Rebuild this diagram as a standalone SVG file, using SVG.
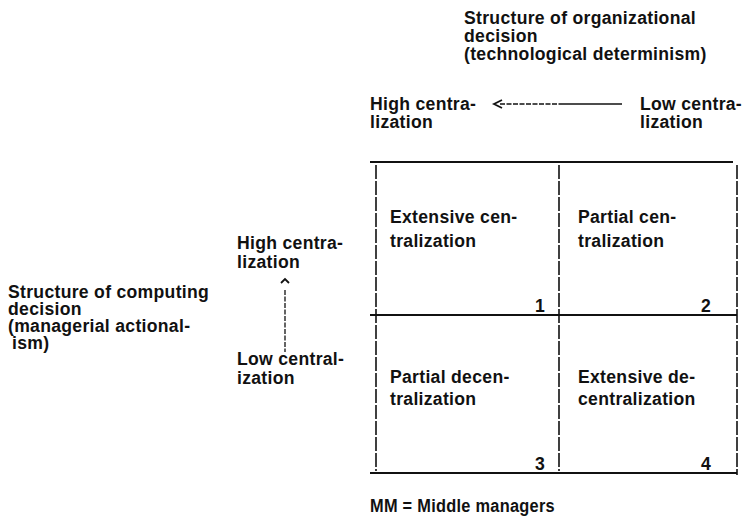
<svg xmlns="http://www.w3.org/2000/svg" width="747" height="517" viewBox="0 0 747 517">
<style>
text{font-family:"Liberation Sans",Arial,sans-serif;font-size:17.6px;font-weight:bold;fill:#111;letter-spacing:0.3px}
.h{stroke:#111;stroke-width:2.2;fill:none}
.v{stroke:#111;stroke-width:1.6;fill:none;stroke-dasharray:14 2}
.d{stroke:#111;stroke-width:1.3;fill:none;stroke-dasharray:5 1.5}
.s{stroke:#111;stroke-width:1.6;fill:none}
</style>
<rect width="747" height="517" fill="#fff"/>
<g id="title-top">
<text x="464" y="24">Structure of organizational</text>
<text x="464" y="42">decision</text>
<text x="464" y="60">(technological determinism)</text>
</g>
<g id="axis-top">
<text x="370" y="110">High centra-</text>
<text x="370" y="128">lization</text>
<text x="640" y="110">Low centra-</text>
<text x="640" y="128">lization</text>
</g>
<g id="title-left">
<text x="8" y="298">Structure of computing</text>
<text x="8" y="315">decision</text>
<text x="8" y="332">(managerial actional-</text>
<text x="12" y="349">ism)</text>
</g>
<g id="axis-left">
<text x="237" y="249">High centra-</text>
<text x="237" y="268">lization</text>
<text x="237" y="365">Low central-</text>
<text x="237" y="384">ization</text>
</g>
<g id="grid">
<line class="h" x1="370" y1="162" x2="733" y2="162"/>
<line class="h" x1="370" y1="315" x2="737" y2="315"/>
<line class="h" x1="370" y1="473" x2="737" y2="473"/>
<line class="v" x1="376" y1="165" x2="376" y2="471"/>
<line class="v" x1="559" y1="165" x2="559" y2="471"/>
<line class="v" x1="737" y1="165" x2="737" y2="475"/>
</g>
<g id="cell1">
<text x="390" y="223">Extensive cen-</text>
<text x="390" y="247">tralization</text>
<text x="545" y="312" text-anchor="end">1</text>
</g>
<g id="cell2">
<text x="578" y="223">Partial cen-</text>
<text x="578" y="247">tralization</text>
<text x="711" y="312" text-anchor="end">2</text>
</g>
<g id="cell3">
<text x="390" y="383">Partial decen-</text>
<text x="390" y="405">tralization</text>
<text x="545" y="470" text-anchor="end">3</text>
</g>
<g id="cell4">
<text x="578" y="383">Extensive de-</text>
<text x="578" y="405">centralization</text>
<text x="711" y="470" text-anchor="end">4</text>
</g>
<g id="connectors">
<line class="d" x1="500" y1="104" x2="562" y2="104"/>
<line class="s" x1="562" y1="104" x2="622" y2="104"/>
<path d="M502,100 L494,104 L502,108" fill="none" stroke="#111" stroke-width="1.8"/>
<line class="d" x1="285" y1="290" x2="285" y2="352"/>
<path d="M281,283 L285,279 L289,283" fill="none" stroke="#111" stroke-width="1.8"/>
</g>
<g id="legend">
<text x="370" y="512" textLength="185" lengthAdjust="spacingAndGlyphs">MM = Middle managers</text>
</g>
</svg>
